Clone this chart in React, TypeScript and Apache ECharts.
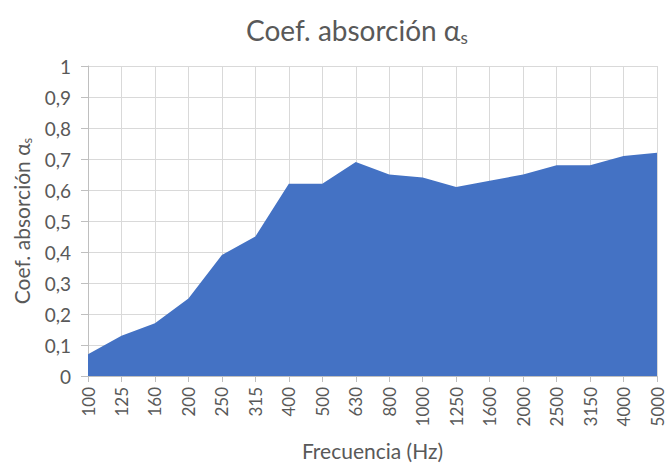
import React, { useEffect, useRef } from "react";
import * as echarts from "echarts";

const categories = ["100", "125", "160", "200", "250", "315", "400", "500", "630", "800", "1000", "1250", "1600", "2000", "2500", "3150", "4000", "5000"];
const values = [0.07, 0.13, 0.17, 0.25, 0.39, 0.45, 0.62, 0.62, 0.69, 0.65, 0.64, 0.61, 0.63, 0.65, 0.68, 0.68, 0.71, 0.72];

const FONT = "Lato, 'Open Sans', sans-serif";
const TXT = "#595959";

export default function App() {
  const ref = useRef<HTMLDivElement>(null);
  useEffect(() => {
    const chart = echarts.init(ref.current!, null, { renderer: "svg" });
    chart.setOption({
      animation: false,
      backgroundColor: "#fff",
      title: {
        text: "Coef. absorción α{s|s}",
        left: 241,
        top: 8,
        textStyle: {
          fontFamily: FONT,
          fontSize: 28,
          fontWeight: "normal",
          color: TXT,
          rich: { s: { fontFamily: FONT, fontSize: 17, color: TXT, padding: [16, 0, 0, 0] } },
        },
      },
      grid: { left: 88, right: 10, top: 66, bottom: 89 },
      xAxis: {
        type: "category",
        data: categories,
        boundaryGap: false,
        name: "Frecuencia (Hz)",
        nameLocation: "middle",
        nameGap: 64,
        nameTextStyle: { fontFamily: FONT, fontSize: 21, color: TXT },
        axisLine: { lineStyle: { color: "#bfbfbf" } },
        axisTick: { show: true, length: 6, lineStyle: { color: "#bfbfbf" } },
        axisLabel: { rotate: 90, fontFamily: FONT, fontSize: 17, color: TXT, margin: 11, interval: 0 },
        splitLine: { show: true, lineStyle: { color: "#d9d9d9" } },
      },
      yAxis: {
        type: "value",
        min: 0,
        max: 1,
        interval: 0.1,
        name: "Coef. absorción α{s|s}",
        nameLocation: "middle",
        nameGap: 54,
        nameRotate: 90,
        nameTextStyle: {
          fontFamily: FONT,
          fontSize: 21,
          color: TXT,
          rich: { s: { fontFamily: FONT, fontSize: 13, color: TXT, padding: [12, 0, 0, 0] } },
        },
        axisLine: { show: true, lineStyle: { color: "#bfbfbf" } },
        axisTick: { show: true, length: 7, lineStyle: { color: "#bfbfbf" } },
        axisLabel: {
          fontFamily: FONT,
          fontSize: 19,
          color: TXT,
          margin: 17,
          formatter: (v: number) => (Math.round(v * 10) / 10).toString().replace(".", ","),
        },
        splitLine: { show: true, lineStyle: { color: "#d9d9d9" } },
      },
      series: [
        {
          type: "line",
          data: values,
          symbol: "none",
          lineStyle: { width: 0, color: "#4472C4" },
          areaStyle: { color: "#4472C4", opacity: 1 },
          itemStyle: { color: "#4472C4" },
        },
      ],
    });
    return () => chart.dispose();
  }, []);
  return <div ref={ref} style={{ width: 667, height: 466, position: "absolute", left: 0, top: 0 }} />;
}
